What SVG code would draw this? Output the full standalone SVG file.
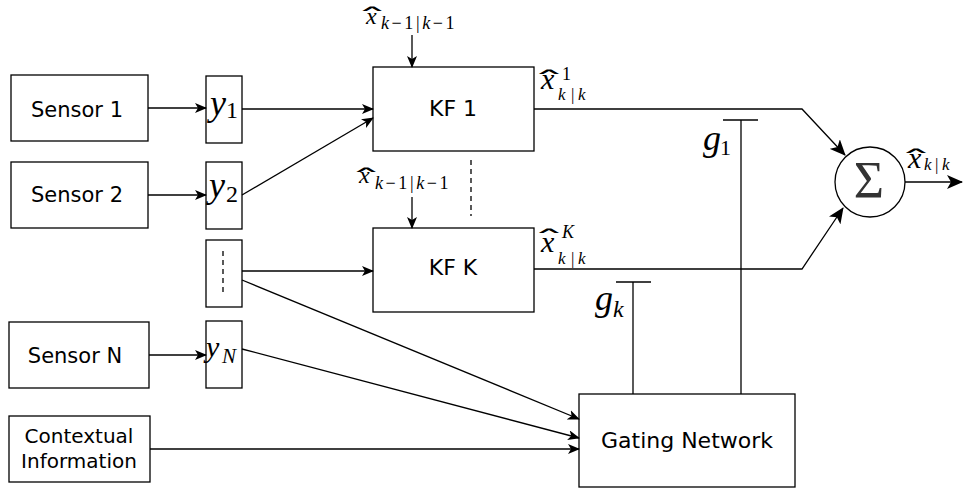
<svg xmlns="http://www.w3.org/2000/svg" width="963" height="488" viewBox="0 0 963 488">
<defs>
<marker id="ah" viewBox="0 0 12 10" refX="11" refY="5" markerWidth="12" markerHeight="10" markerUnits="userSpaceOnUse" orient="auto">
<path d="M0,0 L12,5 L0,10 L3,5 Z" fill="#000"/>
</marker>
<marker id="ahb" viewBox="0 0 16 14" refX="15" refY="7" markerWidth="16" markerHeight="14" markerUnits="userSpaceOnUse" orient="auto">
<path d="M0,0 L16,7 L0,14 L4,7 Z" fill="#000"/>
</marker>
<style>
.box{fill:#fff;stroke:#000;stroke-width:1.3}
.ln{fill:none;stroke:#000;stroke-width:1.3}
.t{font-family:"DejaVu Sans",sans-serif;font-size:22px;text-anchor:middle;fill:#000}
.m{font-family:"Liberation Serif","DejaVu Serif",serif;font-style:italic;fill:#000}
.r{font-family:"Liberation Serif","DejaVu Serif",serif;font-style:normal;fill:#000}
.hat{font-family:"DejaVu Sans",sans-serif;font-size:24px;text-anchor:middle;fill:#000}
.sp{letter-spacing:2.6px}
</style>
</defs>

<g id="sensor1"><rect class="box" x="11" y="75" width="137" height="66"/><text class="t" x="77" y="117" style="font-size:21px">Sensor 1</text></g>
<g id="sensor2"><rect class="box" x="11" y="162" width="137" height="66"/><text class="t" x="77" y="202" style="font-size:21px">Sensor 2</text></g>
<g id="sensorN"><rect class="box" x="9" y="322" width="140" height="66"/><text class="t" x="75" y="363" style="font-size:21px">Sensor N</text></g>
<g id="context"><rect class="box" x="9" y="416" width="141" height="66"/><text class="t" x="79" y="443" style="font-size:20px">Contextual</text><text class="t" x="79" y="468" style="font-size:20px">Information</text></g>

<g id="y1"><rect class="box" x="206" y="76" width="36" height="67"/><text class="m" font-size="36"><tspan x="210" y="115">y</tspan><tspan class="r" x="226" y="118" font-size="24">1</tspan></text></g>
<g id="y2"><rect class="box" x="206" y="162" width="36" height="67"/><text class="m" font-size="36"><tspan x="209" y="197">y</tspan><tspan class="r" x="226" y="202" font-size="24">2</tspan></text></g>
<g id="ydots"><rect class="box" x="206" y="240" width="36" height="67"/><line class="ln" x1="223" y1="251" x2="223" y2="295" stroke-dasharray="5,4"/></g>
<g id="yN"><rect class="box" x="206" y="321" width="36" height="67"/><text class="m" font-size="30"><tspan x="206" y="357">y</tspan><tspan x="222" y="363" font-size="21">N</tspan></text></g>

<g id="kf1"><rect class="box" x="373" y="67" width="161" height="84"/><text class="t" x="453" y="116">KF 1</text></g>
<g id="kfk"><rect class="box" x="373" y="228" width="161" height="84"/><text class="t" x="453" y="275">KF K</text></g>

<g id="gating"><rect class="box" x="579" y="394" width="216" height="93"/><text class="t" x="687" y="448">Gating Network</text></g>

<g id="sum"><circle class="box" cx="870" cy="182" r="35"/><text class="r" x="869" y="198" font-size="52" text-anchor="middle" style="fill:#333">Σ</text></g>

<g id="labels">
<text class="hat" x="372" y="26" transform="translate(372,0) scale(2.6,1) translate(-372,0)">ˆ</text>
<text class="m" font-size="24"><tspan x="366" y="24">x</tspan><tspan class="sp" x="381" y="29" font-size="18">k<tspan class="r">−1|</tspan>k<tspan class="r">−1</tspan></tspan></text>

<text class="hat" x="366" y="187" transform="translate(366,0) scale(2.6,1) translate(-366,0)">ˆ</text>
<text class="m" font-size="24"><tspan x="359" y="183">x</tspan><tspan class="sp" x="375" y="189" font-size="18">k<tspan class="r">−1|</tspan>k<tspan class="r">−1</tspan></tspan></text>

<text class="hat" x="549" y="89" transform="translate(549,0) scale(2.7,1) translate(-549,0)">ˆ</text>
<text class="m" font-size="30"><tspan x="541" y="89">x</tspan><tspan class="r" x="562" y="80" font-size="18">1</tspan><tspan x="558" y="100" font-size="17">k</tspan><tspan class="r" x="571" y="100" font-size="17">|</tspan><tspan x="578" y="100" font-size="17">k</tspan></text>

<text class="hat" x="549" y="248" transform="translate(549,0) scale(2.7,1) translate(-549,0)">ˆ</text>
<text class="m" font-size="30"><tspan x="541" y="252">x</tspan><tspan x="562" y="238" font-size="18">K</tspan><tspan x="558" y="264" font-size="17">k</tspan><tspan class="r" x="571" y="264" font-size="17">|</tspan><tspan x="578" y="264" font-size="17">k</tspan></text>

<text class="hat" x="916" y="168" transform="translate(916,0) scale(2.7,1) translate(-916,0)">ˆ</text>
<text class="m" font-size="30"><tspan x="908" y="168">x</tspan><tspan x="924" y="170" font-size="17">k</tspan><tspan class="r" x="935" y="170" font-size="17">|</tspan><tspan x="942" y="170" font-size="17">k</tspan></text>

<text class="m" font-size="36"><tspan x="703" y="150">g</tspan><tspan class="r" x="720" y="155" font-size="22">1</tspan></text>
<text class="m" font-size="36"><tspan x="595" y="310">g</tspan><tspan x="613" y="317" font-size="24">k</tspan></text>
</g>

<g id="connectors">
<line class="ln" x1="148" y1="108" x2="206" y2="108" marker-end="url(#ah)"/>
<line class="ln" x1="148" y1="195" x2="206" y2="195" marker-end="url(#ah)"/>
<line class="ln" x1="149" y1="355" x2="206" y2="355" marker-end="url(#ah)"/>
<line class="ln" x1="242" y1="109" x2="373" y2="109" marker-end="url(#ah)"/>
<line class="ln" x1="242" y1="195" x2="373" y2="118" marker-end="url(#ah)"/>
<line class="ln" x1="242" y1="271" x2="373" y2="271" marker-end="url(#ah)"/>
<line class="ln" x1="242" y1="280" x2="579" y2="419" marker-end="url(#ah)"/>
<line class="ln" x1="242" y1="349" x2="579" y2="438" marker-end="url(#ah)"/>
<line class="ln" x1="150" y1="449" x2="579" y2="449" marker-end="url(#ah)"/>
<line class="ln" x1="412" y1="35" x2="412" y2="67" marker-end="url(#ah)"/>
<line class="ln" x1="412" y1="197" x2="412" y2="228" marker-end="url(#ah)"/>
<line class="ln" x1="471" y1="160" x2="471" y2="216" stroke-dasharray="5,4"/>
<polyline class="ln" points="534,109 802,109 845,155" marker-end="url(#ahb)"/>
<polyline class="ln" points="534,269 802,269 843,208" marker-end="url(#ahb)"/>
<line class="ln" x1="905" y1="182" x2="962" y2="182" marker-end="url(#ahb)"/>
<line class="ln" x1="741" y1="120" x2="741" y2="394"/>
<line class="ln" x1="723" y1="120" x2="758" y2="120"/>
<line class="ln" x1="633" y1="282" x2="633" y2="394"/>
<line class="ln" x1="616" y1="282" x2="651" y2="282"/>
</g>
</svg>
